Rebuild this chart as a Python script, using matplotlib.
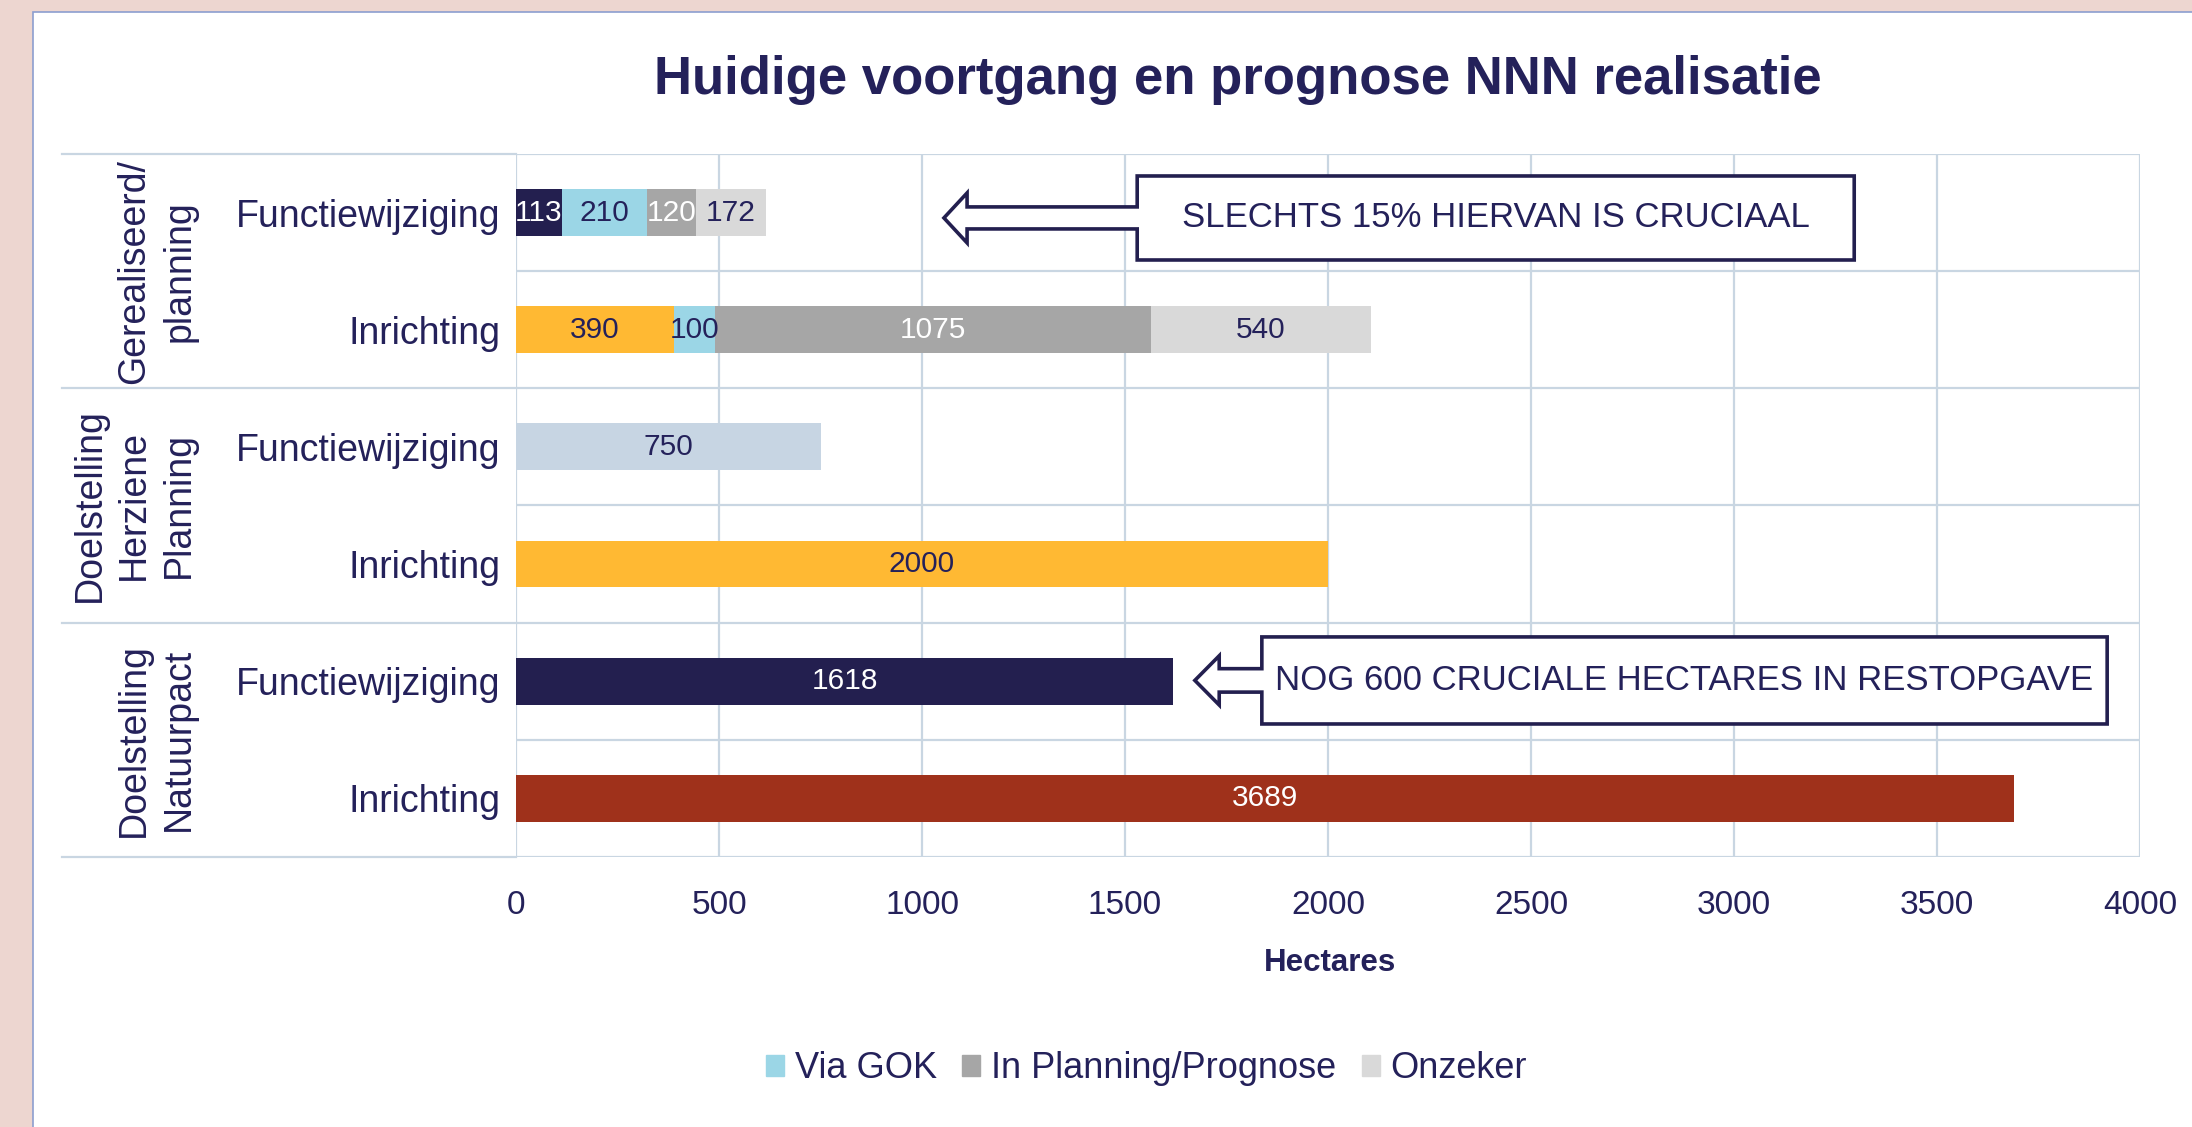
import matplotlib.pyplot as plt
from matplotlib.patches import Rectangle, Polygon
import numpy as np

plt.rcParams['font.family'] = ['Liberation Sans', 'DejaVu Sans']

# data
rijen = ['Functiewijziging', 'Inrichting', 'Functiewijziging', 'Inrichting',
         'Functiewijziging', 'Inrichting']
groepen = ['Gerealiseerd/\nplanning', 'Doelstelling\nHerziene\nPlanning', 'Doelstelling\nNatuurpact']

gerealiseerd_fw = [113, 210, 120, 172]
gerealiseerd_in = [390, 100, 1075, 540]
herzien_fw = [750]
herzien_in = [2000]
natuurpact_fw = [1618]
natuurpact_in = [3689]

legenda = ['Via GOK', 'In Planning/Prognose', 'Onzeker']
xticks = [0, 500, 1000, 1500, 2000, 2500, 3000, 3500, 4000]

tekst1 = 'SLECHTS 15% HIERVAN IS CRUCIAAL'
tekst2 = 'NOG 600 CRUCIALE HECTARES IN RESTOPGAVE'

# kleuren
navy = '#231F4F'
tekst = '#24215A'
gok = '#9BD6E6'
planning = '#A6A6A6'
onzeker = '#D9D9D9'
geel = '#FFB933'
lichtblauw = '#C7D5E3'
rood = '#9F311B'
grid = '#C9D6E2'

segmenten = [
    (gerealiseerd_fw, [navy, gok, planning, onzeker], ['white', tekst, 'white', tekst]),
    (gerealiseerd_in, [geel, gok, planning, onzeker], [tekst, tekst, 'white', tekst]),
    (herzien_fw, [lichtblauw], [tekst]),
    (herzien_in, [geel], [tekst]),
    (natuurpact_fw, [navy], ['white']),
    (natuurpact_in, [rood], ['white']),
]

fig = plt.figure(figsize=(21.92, 11.27), dpi=100)
fig.patch.set_facecolor('#EDD6D0')
fig.patches.append(Rectangle((33 / 2192, -0.01), 1.0, 1 - 12 / 1127 + 0.01,
                             transform=fig.transFigure, facecolor='white',
                             edgecolor='#8C9ECF', lw=1.2, zorder=-1))

ax = fig.add_axes([0.2354, 0.2396, 0.7409, 0.6238])
ax.set_facecolor('none')
ax.set_zorder(2)

for i, (vals, kleuren, tkleuren) in enumerate(segmenten):
    links = 0
    for v, c, tc in zip(vals, kleuren, tkleuren):
        bars = ax.barh(i, v, left=links, height=0.4, color=c, zorder=3)
        ax.bar_label(bars, labels=[str(v)], label_type='center', color=tc,
                     fontsize=21.5, zorder=4)
        links += v

ax.set_xlim(0, 4000)
ax.set_ylim(5.5, -0.5)
ax.set_xticks(xticks)
ax.set_xticklabels([str(t) for t in xticks], fontsize=24, color=tekst)
ax.set_yticks(range(len(rijen)))
ax.set_yticklabels(rijen, fontsize=27, color=tekst)
ax.set_yticks(np.arange(-0.5, 6, 1), minor=True)
ax.tick_params(axis='both', which='both', length=0)
ax.tick_params(axis='y', pad=11)
ax.tick_params(axis='x', pad=24)
ax.grid(axis='x', which='major', color=grid, lw=1.6, zorder=1)
ax.grid(axis='y', which='minor', color=grid, lw=1.6, zorder=1)
for s in ax.spines.values():
    s.set_visible(False)

ax.set_xlabel('Hectares', fontsize=22.5, fontweight='bold', color=tekst)
ax.xaxis.label.set_va('center')
ax.xaxis.set_label_coords(0.501, -0.151)

# groepslijnen links van de as
for b in [-0.5, 1.5, 3.5, 5.5]:
    ax.plot([-0.2796, 0], [b, b], transform=ax.get_yaxis_transform(),
            color=grid, lw=1.6, clip_on=False, zorder=1)

groep_x = [-0.221, -0.235, -0.2217]
for g, (naam, gx) in enumerate(zip(groepen, groep_x)):
    ax.text(gx, 2 * g + 0.5, naam, transform=ax.get_yaxis_transform(),
            rotation=90, ha='center', va='center', fontsize=27, color=tekst,
            linespacing=1.32, multialignment='center')


def callout(x0, x1, y0, y1, tip, kop_x, yc, kop_h, schacht_h, label):
    pts = [(x0, y0), (x1, y0), (x1, y1), (x0, y1),
           (x0, yc + schacht_h), (kop_x, yc + schacht_h), (kop_x, yc + kop_h),
           (tip, yc), (kop_x, yc - kop_h), (kop_x, yc - schacht_h),
           (x0, yc - schacht_h)]
    ax.add_patch(Polygon(pts, closed=True, facecolor='white', edgecolor=navy,
                         lw=2.6, zorder=5, clip_on=False))
    ax.text((x0 + x1) / 2, (y0 + y1) / 2, label, ha='center', va='center',
            fontsize=25, color=tekst, zorder=6)


callout(1530, 3296, -0.312, 0.405, 1054, 1111, 0.046, 0.213, 0.094, tekst1)
callout(1837, 3919, 3.622, 4.365, 1672, 1732, 3.993, 0.21, 0.1, tekst2)

fig.text(0.5645, 0.929, 'Huidige voortgang en prognose NNN realisatie',
         ha='center', va='center', fontsize=38, fontweight='bold', color=tekst)

handles = [Rectangle((0, 0), 1, 1, color=c) for c in [gok, planning, onzeker]]
fig.legend(handles, legenda, loc='center', bbox_to_anchor=(0.523, 0.0515),
           ncol=3, frameon=False, fontsize=26, labelcolor=tekst,
           handlelength=0.5, handleheight=0.5, handletextpad=0.3,
           columnspacing=0.7)

fig.savefig('out.png', dpi=100, facecolor=fig.get_facecolor())
